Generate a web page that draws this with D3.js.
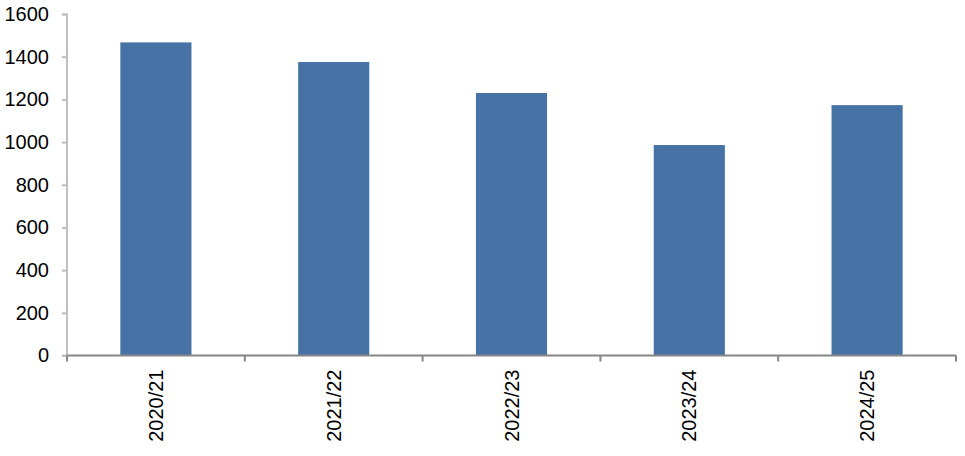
<!DOCTYPE html>
<html>
<head>
<meta charset="utf-8">
<script src="https://cdn.jsdelivr.net/npm/d3@7"></script>
<style>
  body { margin: 0; background: #fff; }
  text { font-family: "Liberation Sans", Arial, sans-serif; }
</style>
</head>
<body>
<div id="chart"></div>
<script>
const years = ["2020/21", "2021/22", "2022/23", "2023/24", "2024/25"];
const values = [1467, 1375, 1230, 986, 1173];
const yTicks = [0, 200, 400, 600, 800, 1000, 1200, 1400, 1600];

const margin = { top: 14, right: 9, bottom: 100, left: 67 };
const width = 965 - margin.left - margin.right;
const height = 355.5 - margin.top;

const svg = d3.select("#chart")
    .append("svg")
    .attr("width", 965)
    .attr("height", 456)
    .append("g")
    .attr("transform", `translate(${margin.left},${margin.top})`);

const x = d3.scaleBand()
    .domain(years)
    .range([0, width])
    .paddingInner(0.6)
    .paddingOuter(0.3);

const y = d3.scaleLinear()
    .domain([0, 1600])
    .range([height, 0]);

// bars
svg.selectAll(".bar")
    .data(years.map((d, i) => ({ year: d, value: values[i] })))
    .enter().append("rect")
    .attr("class", "bar")
    .attr("x", d => x(d.year))
    .attr("width", x.bandwidth())
    .attr("y", d => y(d.value))
    .attr("height", d => height - y(d.value))
    .attr("fill", "#4672a6");

// y axis
const yAxis = svg.append("g")
    .call(d3.axisLeft(y).tickValues(yTicks).tickFormat(d3.format("d")).tickSize(5).tickPadding(13));
yAxis.select(".domain").attr("stroke", "#bfbfbf").attr("stroke-width", 2)
    .attr("d", `M-5,0.5H0V${height}H-5`);
yAxis.selectAll(".tick line").attr("stroke", "#bfbfbf").attr("stroke-width", 2);
yAxis.selectAll(".tick text")
    .style("font-size", "20px")
    .style("fill", "#000");

// x axis, ticks sit between categories
const xAxis = svg.append("g")
    .attr("transform", `translate(0,${height})`);
xAxis.append("line")
    .attr("x1", 0)
    .attr("x2", width)
    .attr("stroke", "#868686")
    .attr("stroke-width", 2);

const step = x.step();
xAxis.selectAll(".xtick")
    .data(d3.range(years.length + 1))
    .enter().append("line")
    .attr("class", "xtick")
    .attr("x1", i => i * step)
    .attr("x2", i => i * step)
    .attr("y1", 0)
    .attr("y2", 6)
    .attr("stroke", "#868686")
    .attr("stroke-width", 2);

xAxis.selectAll(".xlabel")
    .data(years)
    .enter().append("text")
    .attr("class", "xlabel")
    .attr("transform", d => `translate(${x(d) + x.bandwidth() / 2 + 7},14) rotate(-90)`)
    .attr("text-anchor", "end")
    .style("font-size", "20px")
    .style("fill", "#000")
    .text(d => d);
</script>
</body>
</html>
